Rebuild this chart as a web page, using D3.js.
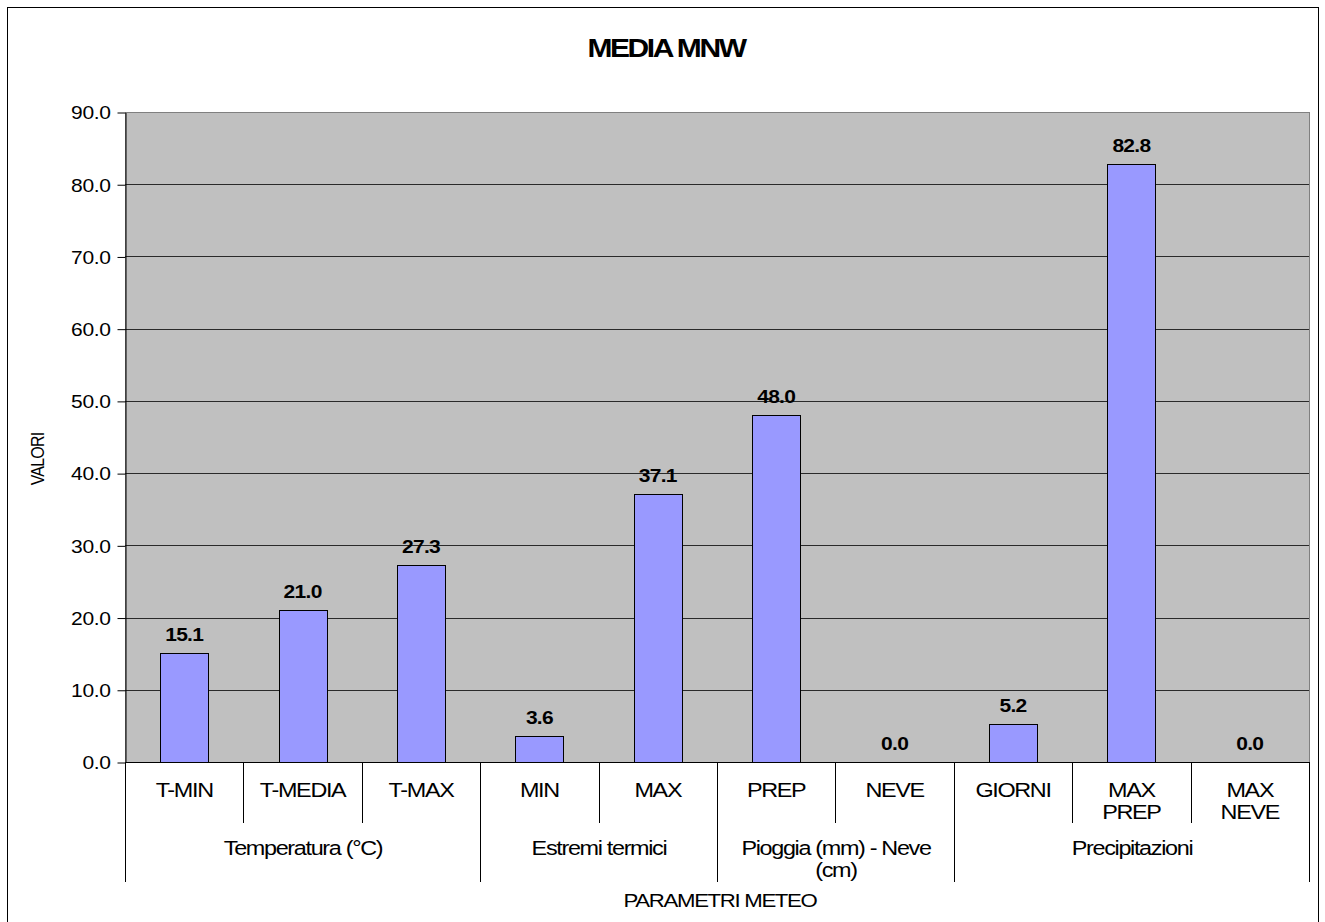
<!DOCTYPE html>
<html>
<head>
<meta charset="utf-8">
<script src="https://cdn.jsdelivr.net/npm/d3@7"></script>
<style>
  html, body { margin: 0; padding: 0; background: #fff; }
  svg { display: block; font-family: "Liberation Sans", Arial, sans-serif; }
</style>
</head>
<body>
<svg id="chart" width="1325" height="922"></svg>
<script>
// Monthly mean values for the MNW station
const categories = ["T-MIN", "T-MEDIA", "T-MAX", "MIN", "MAX", "PREP", "NEVE", "GIORNI", "MAX PREP", "MAX NEVE"];
const values = [15.1, 21.0, 27.3, 3.6, 37.1, 48.0, 0.0, 5.2, 82.8, 0.0];
const groups = ["Temperatura (°C)", "Estremi termici", "Pioggia (mm) - Neve (cm)", "Precipitazioni"];
const groupSizes = [3, 2, 2, 3];
const yTicks = [0, 10, 20, 30, 40, 50, 60, 70, 80, 90];
const title = "MEDIA MNW";
const yTitle = "VALORI";
const xTitle = "PARAMETRI METEO";

const svg = d3.select("#chart");
const plot = { left: 125, right: 1309, top: 112, bottom: 762 };
const SX = 1.2; // horizontal stretch applied to all text

// Text helper: places a (possibly multi-line) label with a horizontal stretch
function label(parent, x, y, lines, opt) {
  const o = Object.assign({ size: 19, weight: "normal", ls: -1, sx: SX, anchor: "middle", lh: 22, rotate: 0 }, opt);
  const t = parent.append("text")
    .attr("transform", `translate(${x},${y}) scale(${o.sx},1)` + (o.rotate ? ` rotate(${o.rotate})` : ""))
    .attr("text-anchor", o.anchor)
    .attr("font-size", o.size)
    .attr("font-weight", o.weight)
    .attr("letter-spacing", o.ls + "px")
    .attr("fill", "#000");
  [].concat(lines).forEach((ln, k) => {
    t.append("tspan").attr("x", 0).attr("y", k * o.lh).text(ln);
  });
  return t;
}

// Outer chart frame (bottom edge lies off-canvas)
svg.append("rect")
  .attr("x", 7.5).attr("y", 7.5)
  .attr("width", 1311).attr("height", 930)
  .attr("fill", "#fff").attr("stroke", "#000").attr("stroke-width", 1);

const x = d3.scaleBand().domain(categories).range([plot.left, plot.right]).paddingInner(0).paddingOuter(0);
const y = d3.scaleLinear().domain([0, 90]).range([plot.bottom, plot.top]);

// Plot area background
svg.append("rect")
  .attr("x", plot.left + 0.5).attr("y", plot.top + 0.5)
  .attr("width", plot.right - plot.left).attr("height", plot.bottom - plot.top)
  .attr("fill", "#C0C0C0").attr("stroke", "#808080").attr("stroke-width", 1);

// Horizontal gridlines
svg.append("g").selectAll("line").data(yTicks.filter(d => d > 0 && d < 90)).join("line")
  .attr("x1", plot.left).attr("x2", plot.right)
  .attr("y1", d => Math.round(y(d)) + 0.5).attr("y2", d => Math.round(y(d)) + 0.5)
  .attr("stroke", "#2a2a2a").attr("stroke-width", 1);

// Y axis
const yAxis = d3.axisLeft(y).tickValues(yTicks).tickFormat(d3.format(".1f")).tickSize(8).tickSizeOuter(0);
const yg = svg.append("g").attr("transform", `translate(${plot.left + 0.5},0.5)`).call(yAxis);
yg.select(".domain").attr("stroke", "#000");
yg.selectAll(".tick line").attr("stroke", "#000");
yg.selectAll(".tick text")
  .attr("x", -15 / SX).attr("dy", "0.36em")
  .attr("transform", `scale(${SX},1)`)
  .attr("font-size", 17.5).attr("fill", "#000")
  .attr("font-family", "Liberation Sans, Arial, sans-serif")
  .attr("letter-spacing", "-0.3px");

// Bars
const barW = 48;
svg.append("g").selectAll("rect").data(values).join("rect")
  .attr("x", (d, i) => Math.round(x(categories[i]) + x.bandwidth() / 2 - barW / 2) + 0.5)
  .attr("y", d => Math.round(y(d)) + 0.5)
  .attr("width", barW)
  .attr("height", d => Math.round(y(0)) - Math.round(y(d)))
  .attr("fill", "#9999FF").attr("stroke", "#000").attr("stroke-width", 1)
  .attr("display", d => d > 0 ? null : "none");

// Value labels
const valG = svg.append("g");
values.forEach((d, i) => {
  label(valG, x(categories[i]) + x.bandwidth() / 2, y(d) - 12, d3.format(".1f")(d),
    { size: 17.5, weight: "bold", ls: -0.6 });
});

// X axis baseline
svg.append("line")
  .attr("x1", plot.left).attr("x2", plot.right)
  .attr("y1", plot.bottom + 0.5).attr("y2", plot.bottom + 0.5)
  .attr("stroke", "#000");

// Category separators (short) and group separators (long)
const groupBounds = [0];
groupSizes.forEach(s => groupBounds.push(groupBounds[groupBounds.length - 1] + s));
const edgeX = i => Math.round(i < categories.length ? x(categories[i]) : plot.right) + 0.5;
svg.append("g").selectAll("line").data(d3.range(categories.length + 1)).join("line")
  .attr("x1", edgeX).attr("x2", edgeX)
  .attr("y1", plot.bottom)
  .attr("y2", i => groupBounds.includes(i) ? 882 : 823)
  .attr("stroke", "#000");

// Category labels (wrapped on spaces)
const catG = svg.append("g");
categories.forEach(c => {
  label(catG, x(c) + x.bandwidth() / 2, 797, c.split(" "), { size: 19.5, ls: -1.1 });
});

// Group labels
const groupLines = [["Temperatura (°C)"], ["Estremi termici"], ["Pioggia (mm) - Neve", "(cm)"], ["Precipitazioni"]];
const grpG = svg.append("g");
groups.forEach((g, gi) => {
  const a = edgeX(groupBounds[gi]);
  const b = edgeX(groupBounds[gi + 1]);
  label(grpG, (a + b) / 2, 855, groupLines[gi], { size: 19.5, ls: -1.1 });
});

// Titles
label(svg, 666, 57, title, { size: 25, weight: "bold", ls: -2 });
label(svg, 44, 459, yTitle, { size: 16, ls: -0.8, rotate: -90, sx: 1.15 });
label(svg, 720, 907, xTitle, { size: 18.5, ls: -1.1 });
</script>
</body>
</html>
